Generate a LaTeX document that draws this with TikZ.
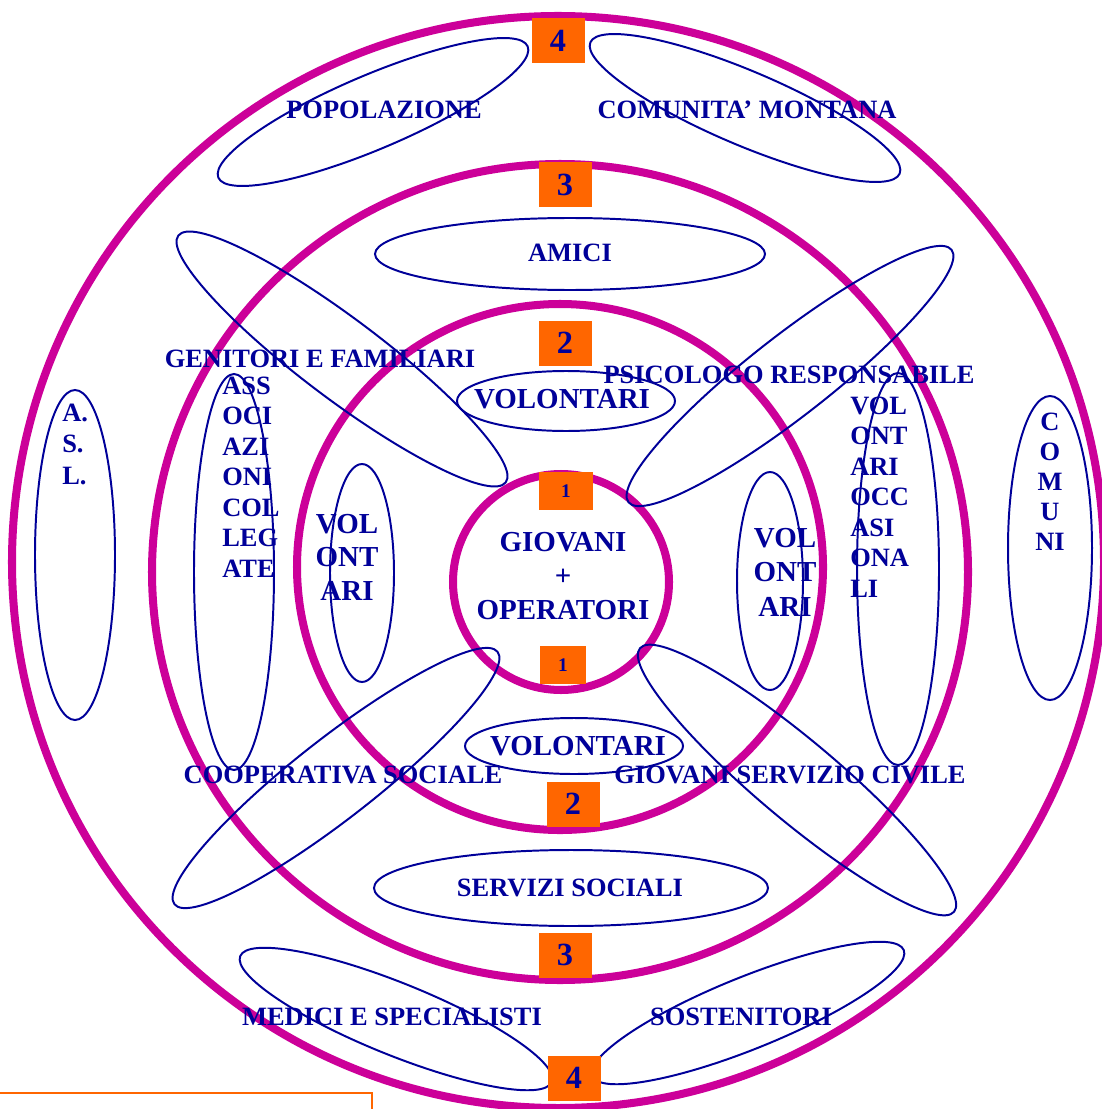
\documentclass[tikz,border=0pt]{standalone}
\usepackage{fontspec}
\setmainfont{Liberation Serif}
\usepackage{tikz}
\usetikzlibrary{positioning}
\definecolor{Ring}{HTML}{CC0099}
\definecolor{Navy}{HTML}{000099}
\definecolor{Badge}{HTML}{FF6600}

\tikzset{
  ring/.style={Ring,line width=5.7pt},
  bubble/.style={Navy,line width=1.4pt},
  lbl/.style={Navy,inner sep=0pt,font=\bfseries\fontsize{18.8}{21.7}\selectfont},
  big/.style={Navy,inner sep=0pt,font=\bfseries\fontsize{20.6}{24}\selectfont},
  num/.style={fill=Badge,text=Navy,inner sep=0pt,minimum width=37.7pt,minimum height=32pt,
    font=\bfseries\fontsize{23}{23}\selectfont},
  one/.style={fill=Badge,text=Navy,inner sep=0pt,minimum height=27pt,
    font=\bfseries\fontsize{13.7}{14}\selectfont}
}

\begin{document}
\begin{tikzpicture}[x=0.025cm,y=-0.025cm]
  \clip (0,0) rectangle (1102,1109);
  \fill[white] (0,0) rectangle (1102,1109);
  % rings
  \draw[ring] (558,562) circle (546);
  \draw[ring] (560,572) circle (408);
  \draw[ring] (560,567) circle (263);
  \draw[ring] (561,582) circle (108);
  % outer groups
  \draw[bubble,rotate around={23:(373,112)}] (373,112) ellipse (168 and 37);
  \draw[bubble,rotate around={-23:(745,108)}] (745,108) ellipse (168 and 37);
  \draw[bubble,rotate around={-22:(396,1019)}] (396,1019) ellipse (168 and 36);
  \draw[bubble,rotate around={22:(748,1013)}] (748,1013) ellipse (168 and 36);
  \draw[bubble] (75,555) ellipse (40 and 165);
  \draw[bubble] (1050,548) ellipse (42 and 152);
  % middle groups
  \draw[bubble] (570,254) ellipse (195 and 36);
  \draw[bubble] (571,888) ellipse (197 and 38);
  \draw[bubble] (234,572) ellipse (40 and 198);
  \draw[bubble] (898,569) ellipse (41 and 196);
  \draw[bubble,rotate around={-37:(342,359)}] (342,359) ellipse (205 and 40);
  \draw[bubble,rotate around={38:(790,376)}] (790,376) ellipse (205 and 40);
  \draw[bubble,rotate around={38:(336,778)}] (336,778) ellipse (205 and 40);
  \draw[bubble,rotate around={-40:(797,780)}] (797,780) ellipse (205 and 40);
  % inner groups
  \draw[bubble] (566,401) ellipse (109 and 30);
  \draw[bubble] (574,746) ellipse (109 and 28);
  \draw[bubble] (362,573) ellipse (32 and 109);
  \draw[bubble] (770,581) ellipse (33 and 109);
  % level badges
  \node[num] (n4a) at (558,41) {4};
  \node[num] (n3a) at (565,185) {3};
  \node[num] (n2a) at (565,343) {2};
  \node[one,minimum width=38.4pt] (n1a) at (566,491) {1};
  \node[one,minimum width=32.7pt] (n1b) at (563,665) {1};
  \node[num] (n2b) at (573,804) {2};
  \node[num] (n3b) at (565,955) {3};
  \node[num] (n4b) at (574,1078) {4};
  % labels
  \node[lbl] (popol) at (384,110) {POPOLAZIONE};
  \node[lbl] (montana) at (747,110) {COMUNITA’ MONTANA};
  \node[lbl] (amici) at (570,253) {AMICI};
  \node[lbl] (genitori) at (320,359) {GENITORI E FAMILIARI};
  \node[lbl] (psicologo) at (789,375) {PSICOLOGO RESPONSABILE};
  \node[big] (volA) at (562,399) {VOLONTARI};
  \node[lbl,align=left,anchor=west] (assoc) at (222,477) {ASS\\OCI\\AZI\\ONI\\COL\\LEG\\ATE};
  \node[lbl,align=left,anchor=west] (occas) at (850,497) {VOL\\ONT\\ARI\\OCC\\ASI\\ONA\\LI};
  \node[lbl,align=left,anchor=west,font=\bfseries\fontsize{18.8}{22.4}\selectfont] (asl) at (62,444) {A.\\S.\\L.};
  \node[lbl,align=center,font=\bfseries\fontsize{18.8}{21.3}\selectfont] (comuni) at (1050,482) {C\\O\\M\\U\\NI};
  \node[big,align=center,font=\bfseries\fontsize{20.6}{23.8}\selectfont] (volL) at (347,557) {VOL\\ONT\\ARI};
  \node[big,align=center,font=\bfseries\fontsize{20.6}{24.5}\selectfont] (volR) at (785,572) {VOL\\ONT\\ARI};
  \node[big,align=center,font=\bfseries\fontsize{20.6}{24.2}\selectfont] (core) at (563,576) {GIOVANI\\+\\OPERATORI};
  \node[big] (volB) at (578,746) {VOLONTARI};
  \node[lbl] (coop) at (343,775) {COOPERATIVA SOCIALE};
  \node[lbl] (civile) at (790,775) {GIOVANI SERVIZIO CIVILE};
  \node[lbl] (sociali) at (570,888) {SERVIZI SOCIALI};
  \node[lbl] (medici) at (392,1017) {MEDICI E SPECIALISTI};
  \node[lbl] (sosten) at (741,1017) {SOSTENITORI};
  % note box, cut by the page edge
  \draw[Badge,line width=1.4pt,fill=white] (-5,1093) rectangle (372,1130);
\end{tikzpicture}
\end{document}
